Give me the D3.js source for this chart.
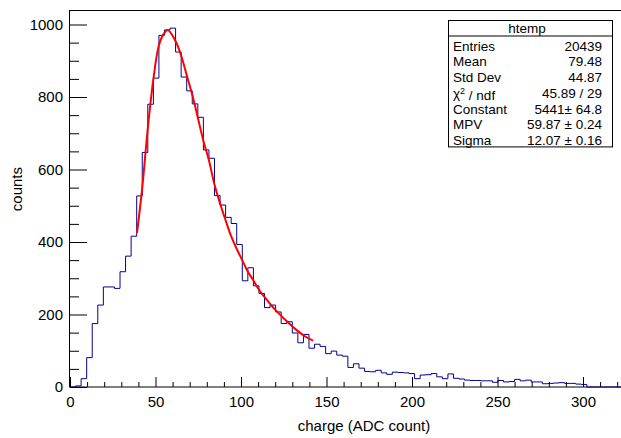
<!DOCTYPE html>
<html>
<head>
<meta charset="utf-8">
<script src="https://cdn.jsdelivr.net/npm/d3@7"></script>
<style>
  body { margin: 0; background: #fff; }
  svg text { font-family: "Liberation Sans", Arial, sans-serif; fill: #000; }
</style>
</head>
<body>
<div id="chart"></div>
<script>
// histogram: 100 bins of 3.25 ADC counts starting at 0
const binLow = 0;
const binWidth = 3.25;
const binCounts = [
  0, 3, 23, 81, 175, 226, 276, 276, 272, 318,
  361, 416, 527, 647, 780, 852, 970, 985, 990, 924,
  855, 817, 781, 744, 654, 631, 528, 502, 468, 451,
  393, 293, 329, 279, 258, 219, 226, 207, 175, 180,
  149, 122, 145, 107, 118, 112, 92, 99, 88, 85,
  54, 64, 52, 43, 42, 46, 39, 35, 41, 40,
  39, 37, 23, 33, 34, 37, 28, 23, 36, 24,
  22, 19, 18, 18, 17, 17, 13, 18, 14, 15,
  21, 17, 19, 14, 14, 9, 10, 11, 12, 10,
  10, 8, 7, 0, 0, 0, 0, 0, 0, 0
];

// landau fit curve [charge, counts]
const fitPoints = [
  [39.2, 425], [42.3, 552], [45.4, 709], [48.7, 847], [51.8, 939],
  [54.5, 972], [57.2, 985], [61.6, 955], [64.9, 916], [68.2, 861],
  [71.5, 806], [74.6, 746], [77.9, 681], [81.2, 626], [84.3, 562],
  [87.7, 507], [91.0, 460], [94.0, 419], [97.4, 382], [100.7, 350],
  [103.8, 320], [107.1, 295], [110.4, 269], [113.6, 249], [116.9, 230],
  [119.8, 214], [125.7, 186], [131.5, 161], [137.3, 140], [142.2, 128]
];

const xMajor = [0, 50, 100, 150, 200, 250, 300];
const yMajor = [0, 200, 400, 600, 800, 1000];

const statsTitle = "htemp";
const statsLabels = ["Entries", "Mean", "Std Dev", "chi2", "Constant", "MPV", "Sigma"];
const statsValues = ["20439", "79.48", "44.87", "45.89 / 29", "5441\u00b1 64.8", "59.87 \u00b1 0.24", "12.07 \u00b1 0.16"];

const W = 621, H = 438;
const svg = d3.select("#chart").append("svg").attr("width", W).attr("height", H);

const x = d3.scaleLinear().domain([0, 325]).range([70, 625.75]);
const y = d3.scaleLinear().domain([0, 1040]).range([387, 10]);

// frame
svg.append("rect")
  .attr("x", 69.5).attr("y", 10.5)
  .attr("width", 560).attr("height", 376.5)
  .attr("fill", "none").attr("stroke", "#000").attr("stroke-width", 1);

// histogram outline (steps)
let d = `M${x(binLow)},${y(0)}`;
binCounts.forEach((c, i) => {
  const lo = binLow + i * binWidth, hi = lo + binWidth;
  d += `L${x(lo)},${y(c)}L${x(hi)},${y(c)}`;
});
d += `L${x(binLow + binCounts.length * binWidth)},${y(0)}`;
svg.append("path")
  .attr("d", d)
  .attr("fill", "none")
  .attr("stroke", "#000099")
  .attr("stroke-width", 1);

// fit
const fitLine = d3.line()
  .x(p => x(p[0]))
  .y(p => y(p[1]))
  .curve(d3.curveCatmullRom.alpha(0.5));
svg.append("path")
  .datum(fitPoints)
  .attr("d", fitLine)
  .attr("fill", "none")
  .attr("stroke", "#ff0000")
  .attr("stroke-width", 2);

// axes (ticks point inwards like ROOT)
const xMinor = d3.range(0, 321, 10).filter(v => v % 50 !== 0);
const yMinor = d3.range(0, 1001, 50).filter(v => v % 200 !== 0);

const gx = svg.append("g").attr("transform", `translate(0,${y(0)})`);
gx.call(d3.axisBottom(x).tickValues(xMinor).tickSize(-5).tickFormat(""));
gx.call(g => g.select(".domain").remove());
const gx2 = svg.append("g").attr("transform", `translate(0,${y(0)})`);
gx2.call(d3.axisBottom(x).tickValues(xMajor).tickSize(-10).tickPadding(9).tickFormat(d3.format("d")));
gx2.select(".domain").remove();

const gy = svg.append("g").attr("transform", `translate(${x(0)},0)`);
gy.call(d3.axisLeft(y).tickValues(yMinor).tickSize(-9).tickFormat(""));
gy.select(".domain").remove();
const gy2 = svg.append("g").attr("transform", `translate(${x(0)},0)`);
gy2.call(d3.axisLeft(y).tickValues(yMajor).tickSize(-17).tickPadding(7).tickFormat(d3.format("d")));
gy2.select(".domain").remove();

svg.selectAll(".tick line").attr("stroke", "#000");
svg.selectAll(".tick text")
  .style("font-family", '"Liberation Sans", Arial, sans-serif')
  .style("font-size", "15px")
  .attr("fill", "#000");

// axis titles
svg.append("text")
  .attr("x", 364).attr("y", 431)
  .attr("text-anchor", "middle")
  .style("font-size", "15px")
  .text("charge (ADC count)");

svg.append("text")
  .attr("transform", "translate(22,167) rotate(-90)")
  .attr("text-anchor", "end")
  .style("font-size", "15px")
  .text("counts");

// stats box
const bx = 448, by = 20.5, bw = 164, rowH = 15.7;
const hdrH = 15.5;
const bh = hdrH + rowH * statsLabels.length + 1;
svg.append("rect")
  .attr("x", bx + 0.5).attr("y", by)
  .attr("width", bw).attr("height", bh)
  .attr("fill", "#fff").attr("stroke", "#000").attr("stroke-width", 1);
svg.append("line")
  .attr("x1", bx + 0.5).attr("x2", bx + bw + 0.5)
  .attr("y1", by + hdrH).attr("y2", by + hdrH)
  .attr("stroke", "#000").attr("stroke-width", 1);
svg.append("text")
  .attr("x", 527).attr("y", by + hdrH / 2)
  .attr("dy", "0.35em")
  .attr("text-anchor", "middle")
  .style("font-size", "13.5px")
  .text(statsTitle);

statsLabels.forEach((lab, i) => {
  const cy = 46 + i * rowH;
  const t = svg.append("text")
    .attr("x", 453).attr("y", cy).attr("dy", "0.35em")
    .style("font-size", "13.5px");
  if (lab === "chi2") {
    t.append("tspan").text("\u03c7");
    t.append("tspan").attr("dy", "-0.45em").style("font-size", "9px").text("2");
    t.append("tspan").attr("dy", "0.45em").text(" / ndf");
  } else {
    t.text(lab);
  }
  svg.append("text")
    .attr("x", 602).attr("y", cy).attr("dy", "0.35em")
    .attr("text-anchor", "end")
    .style("font-size", "13.5px")
    .text(statsValues[i]);
});
</script>
</body>
</html>
